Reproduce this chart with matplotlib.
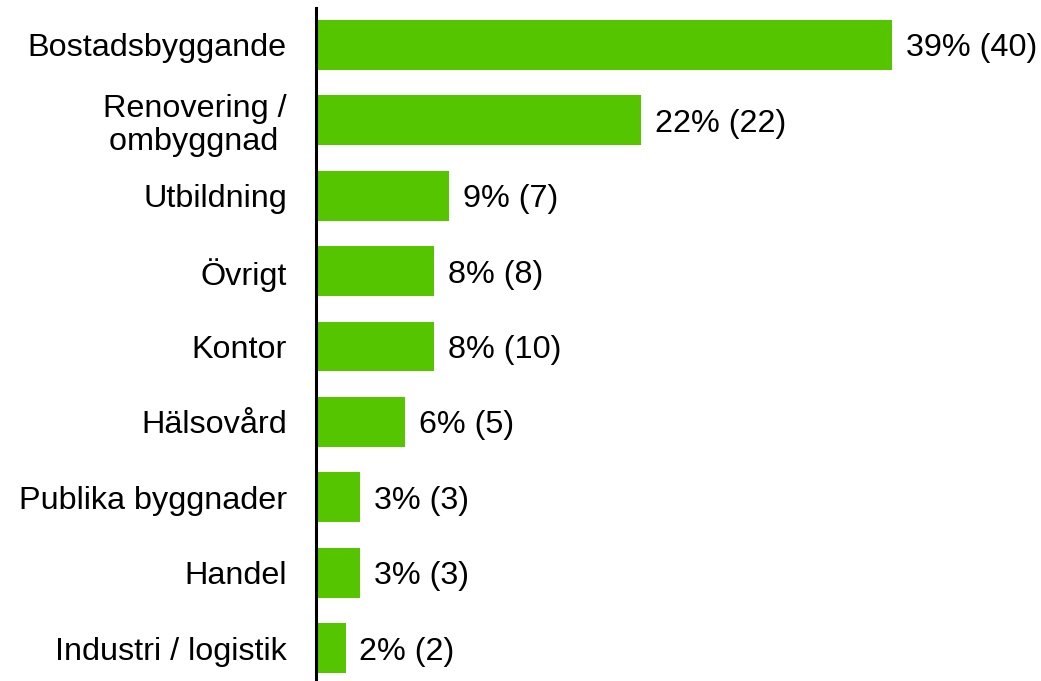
import matplotlib
matplotlib.use("Agg")
import matplotlib.pyplot as plt

plt.rcParams['font.family'] = ['Liberation Sans', 'DejaVu Sans']

categories = ["Bostadsbyggande", "Renovering /\nombyggnad ", "Utbildning", "Övrigt",
              "Kontor", "Hälsovård", "Publika byggnader", "Handel", "Industri / logistik"]
percent = [39, 22, 9, 8, 8, 6, 3, 3, 2]
counts = [40, 22, 7, 8, 10, 5, 3, 3, 2]

fig = plt.figure(figsize=(10.41, 6.81), dpi=100)
ax = fig.add_axes([0.3036, 0.0, 0.6385, 0.9883])

ypos = list(range(len(categories)))
ax.barh(ypos, percent, height=0.66, color="#55C500")

for y, p, n in zip(ypos, percent, counts):
    ax.annotate(f"{p}% ({n})", (p, y), xytext=(10, 0), textcoords="offset points",
                ha="left", va="center_baseline", fontsize=23.3)

ax.set_xlim(0, 45)
ax.set_ylim(8.435, -0.49)
ax.set_yticks(ypos)
ax.set_yticklabels(categories, fontsize=23.3, linespacing=1.12, multialignment="right")
ax.tick_params(axis="y", length=0, pad=21)
ax.set_xticks([])
for s in ["top", "right", "bottom"]:
    ax.spines[s].set_visible(False)
ax.spines["left"].set_linewidth(2.2)
ax.spines["left"].set_color("black")

fig.savefig("out.png", dpi=100)
